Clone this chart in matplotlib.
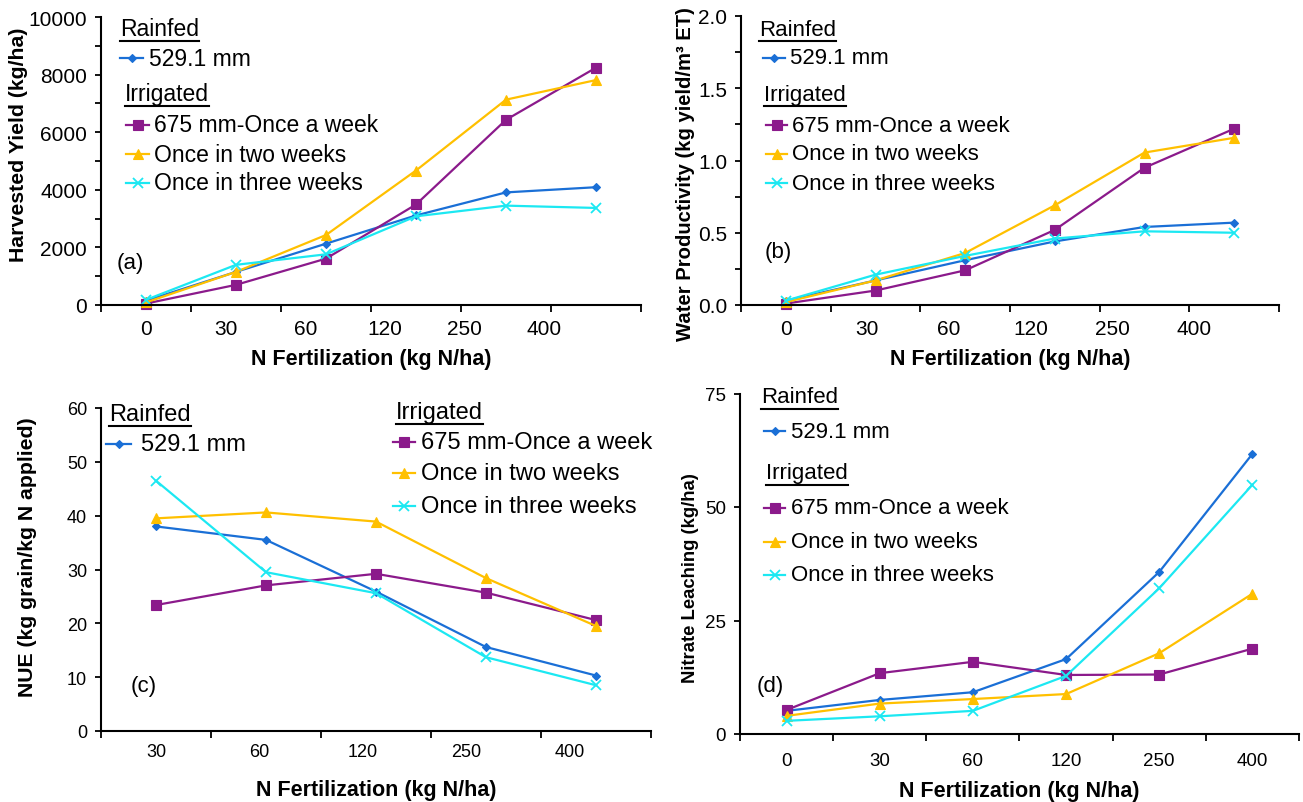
import numpy as np
import matplotlib.pyplot as plt
from matplotlib.lines import Line2D

plt.rcParams['font.family'] = ['Liberation Sans', 'DejaVu Sans']

W, H = 1303, 803

n_rates = ['0', '30', '60', '120', '250', '400']
n_rates_c = ['30', '60', '120', '250', '400']

# (a) harvested yield, kg/ha
yield_rain = [150, 1150, 2130, 3110, 3910, 4090]
yield_week = [50, 700, 1610, 3490, 6430, 8240]
yield_two = [90, 1150, 2430, 4670, 7130, 7810]
yield_three = [180, 1395, 1760, 3080, 3450, 3370]

# (b) water productivity, kg yield/m3 ET
wp_rain = [0.03, 0.17, 0.31, 0.44, 0.54, 0.57]
wp_week = [0.01, 0.10, 0.24, 0.52, 0.95, 1.22]
wp_two = [0.02, 0.17, 0.36, 0.69, 1.055, 1.157]
wp_three = [0.03, 0.21, 0.34, 0.46, 0.51, 0.50]

# (c) NUE, kg grain/kg N applied
nue_rain = [38.0, 35.5, 25.9, 15.6, 10.3]
nue_week = [23.4, 27.05, 29.2, 25.7, 20.6]
nue_two = [39.5, 40.6, 38.9, 28.4, 19.5]
nue_three = [46.5, 29.5, 25.6, 13.7, 8.5]

# (d) nitrate leaching, kg/ha
leach_rain = [5.1, 7.5, 9.2, 16.5, 35.7, 61.7]
leach_week = [5.3, 13.4, 15.9, 13.0, 13.1, 18.8]
leach_two = [4.0, 6.7, 7.7, 8.8, 17.8, 30.9]
leach_three = [2.9, 3.9, 5.1, 12.8, 32.1, 54.9]

names = ['529.1 mm', '675 mm-Once a week', 'Once in two weeks', 'Once in three weeks']
colors = ['#1a6fd6', '#8b1a8b', '#ffc000', '#1ce8f2']
markers = ['D', 's', '^', 'x']
msizes = [4.5, 6.5, 7, 6.5]


def fx(x):
    return x / W


def fy(y):
    return 1 - y / H


fig = plt.figure(figsize=(W / 100, H / 100), dpi=100)


def make_axes(x0, x1, y_top, y_bot):
    return fig.add_axes([fx(x0), fy(y_bot), (x1 - x0) / W, (y_bot - y_top) / H])


def setup(ax, labels, step, ylim, yticks, yminor, ylabel, ylab_xy, ylab_fs, xlabpad, tick_fs, xpad):
    n = len(labels)
    ax.set_xlim(-0.5, n - 0.5)
    ax.set_xticks(np.arange(n + 1) - 0.5)
    ax.set_xticklabels([])
    ax.set_xticks(np.arange(n) * step, labels, minor=True)
    ax.tick_params(axis='x', which='major', length=5, width=1.3, direction='out')
    ax.tick_params(axis='x', which='minor', length=0, pad=xpad, labelsize=tick_fs)
    ax.set_ylim(*ylim)
    ax.set_yticks(yticks)
    if yminor is not None:
        ax.set_yticks(yminor, minor=True)
    ax.tick_params(axis='y', which='both', length=4, width=1.3, direction='out',
                   pad=6, labelsize=tick_fs, colors='black')
    for s in ['top', 'right']:
        ax.spines[s].set_visible(False)
    for s in ['left', 'bottom']:
        ax.spines[s].set_linewidth(1.5)
    ax.set_xlabel('N Fertilization (kg N/ha)', fontsize=15.5, fontweight='bold', labelpad=xlabpad)
    ax.set_ylabel(ylabel, fontsize=ylab_fs, fontweight='bold', va='center')
    ax.yaxis.set_label_coords(*ylab_xy)


def plot_series(ax, series):
    x = np.arange(len(series[0]))
    for vals, c, m, ms in zip(series, colors, markers, msizes):
        ax.plot(x, vals, color=c, marker=m, markersize=ms, lw=1.6, clip_on=False,
                markeredgewidth=1.3 if m == 'x' else 0.8)


headers = []


def legend(rain_head, rain_row, irr_head, irr_rows, panel_lab, fs=16):
    for txt, (x, y) in [('Rainfed', rain_head), ('Irrigated', irr_head)]:
        headers.append((fig.text(fx(x), fy(y), txt, fontsize=fs, va='center', ha='left'), y))
    rows = [rain_row] + [(irr_rows[1], irr_rows[2], irr_rows[3], y) for y in irr_rows[0]]
    for (x0, x1, xt, y), name, c, m, ms in zip(rows, names, colors, markers, msizes):
        fig.add_artist(Line2D([fx(x0), fx((x0 + x1) / 2), fx(x1)], [fy(y)] * 3,
                              transform=fig.transFigure, color=c, lw=1.6, marker=m,
                              markevery=[1], markersize=ms,
                              markeredgewidth=1.3 if m == 'x' else 0.8))
        fig.text(fx(xt), fy(y), name, fontsize=fs, va='center', ha='left')
    lab, (lx, ly) = panel_lab
    fig.text(fx(lx), fy(ly), lab, fontsize=16, va='center', ha='left')


# (a)
ax_a = make_axes(101, 641, 18, 306)
plot_series(ax_a, [yield_rain, yield_week, yield_two, yield_three])
setup(ax_a, n_rates, 0.885, (0, 10000), np.arange(0, 10001, 2000), np.arange(1000, 10000, 2000),
      'Harvested Yield (kg/ha)', (-0.152, 0.56), 15.3, 7, 15, 10)
legend((120, 30), (120, 143, 149, 59), (125, 95), ([126, 155, 184], 126, 149, 154),
       ('(a)', (117, 263)), fs=16.5)

# (b)
ax_b = make_axes(741, 1279, 17, 306)
plot_series(ax_b, [wp_rain, wp_week, wp_two, wp_three])
setup(ax_b, n_rates, 0.91, (0, 2.0), np.arange(0, 2.01, 0.5), np.arange(0.25, 2.0, 0.5),
      'Water Productivity (kg yield/m³ ET)', (-0.104, 0.455), 14.6, 7, 15, 10)
ax_b.yaxis.set_major_formatter(plt.FormatStrFormatter('%.1f'))
legend((759, 30), (763, 785, 790, 59), (764, 95), ([126, 155, 184], 766, 787, 792),
       ('(b)', (765, 253)))

# (c)
ax_c = make_axes(101, 651, 409, 732)
plot_series(ax_c, [nue_rain, nue_week, nue_two, nue_three])
setup(ax_c, n_rates_c, 0.94, (0, 60), np.arange(0, 61, 10), None,
      'NUE (kg grain/kg N applied)', (-0.133, 0.54), 15.3, 13, 13, 9)
legend((109, 415), (106, 131, 141, 445), (396, 413), ([443, 474, 507], 393, 415, 421),
       ('(c)', (131, 687)), fs=17)

# (d)
ax_d = make_axes(740, 1299, 394.5, 735)
plot_series(ax_d, [leach_rain, leach_week, leach_two, leach_three])
setup(ax_d, n_rates, 1.0, (0, 75), np.arange(0, 76, 25), None,
      'Nitrate Leaching (kg/ha)', (-0.089, 0.46), 13.3, 8, 13.5, 13)
legend((761, 398), (764, 785, 791, 432), (766, 474), ([509, 543, 576], 764, 785, 791),
       ('(d)', (757, 687)))

# underline the group headers
fig.canvas.draw()
r = fig.canvas.get_renderer()
for t, y in headers:
    bb = t.get_window_extent(r)
    fig.add_artist(Line2D([bb.x0 / W, bb.x1 / W], [fy(y + 12)] * 2,
                          transform=fig.transFigure, color='black', lw=1.5))

fig.savefig('out.png', dpi=100)
